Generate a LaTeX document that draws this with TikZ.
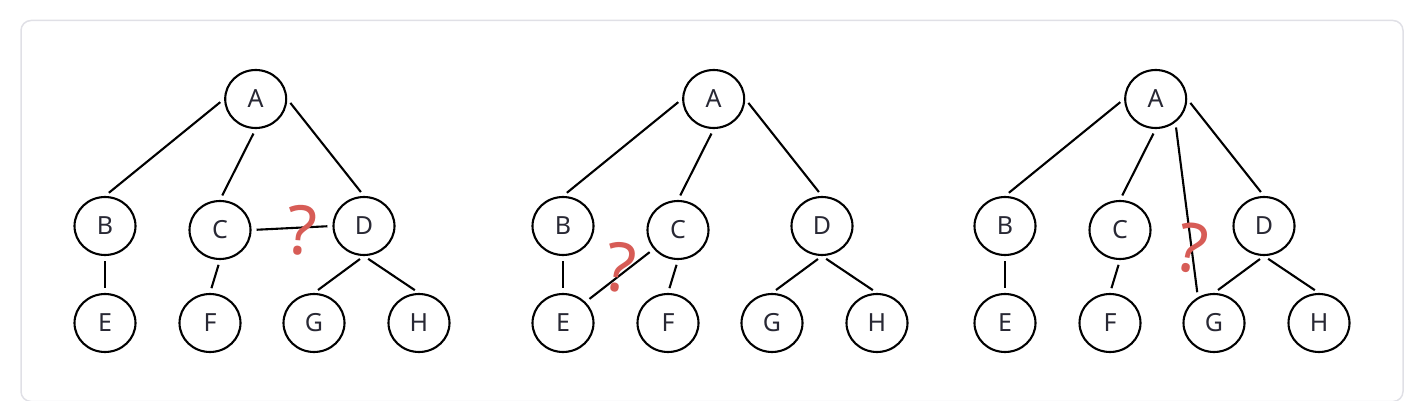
\documentclass[tikz,border=0pt]{standalone}
\usepackage{fontspec}
\setmainfont{Noto Sans}
\usepackage{xcolor}
\definecolor{qred}{RGB}{215,92,86}
\definecolor{qink}{RGB}{40,40,52}
\definecolor{qframe}{RGB}{224,224,230}
\usetikzlibrary{shapes.geometric}

\tikzset{
  vertex/.style={draw=black, ellipse, line width=2.1pt, minimum width=61pt,
    minimum height=58pt, inner sep=0pt, text=qink, font=\fontsize{25}{28}\selectfont},
  edge/.style={draw=black, line width=2.1pt, shorten <=5pt, shorten >=5pt},
  qmark/.style={text=qred, inner sep=0pt, font=\fontsize{68}{74}\selectfont}
}

\begin{document}
\begin{tikzpicture}[x=1pt, y=-1pt]
  \useasboundingbox (0,0) rectangle (1419,401);
  % outer frame
  \draw[qframe, line width=1.5pt, rounded corners=10pt] (21,20.5) rectangle (1403,401.5);

  % the same tree in all three panels
  \foreach \dx/\p in {0/l, 458/m, 900/r} {
    \begin{scope}[shift={(\dx,0)}, name prefix=\p-]
      \node[vertex] (A) at (255.7,99) {A};
      \node[vertex] (B) at (105,226) {B};
      \node[vertex] (C) at (220,230) {C};
      \node[vertex] (D) at (364,226) {D};
      \node[vertex] (E) at (105,323) {E};
      \node[vertex] (F) at (210,323) {F};
      \node[vertex] (G) at (314,323) {G};
      \node[vertex] (H) at (419,323) {H};
      \draw[edge] (A.west) -- (B.north);
      \draw[edge] (A.south) -- (C.north);
      \draw[edge] (A.east) -- (D.north);
      \draw[edge] (B.south) -- (E.north);
      \draw[edge] (C.south) -- (F.north);
      \draw[edge] (D.south) -- (G.north);
      \draw[edge] (D.south) -- (H.north);
    \end{scope}
  }

  % extra links, one per panel
  \draw[edge] (l-C.east) -- (l-D.west);
  \node[qmark, rotate=-4] (q1) at (302,230) {?};

  \draw[edge] (m-C.218) -- (m-E.43);
  \node[qmark, rotate=-8] (q2) at (620,268) {?};

  \draw[edge] (r-A.310) -- (r-G.122);
  \node[qmark, rotate=-10] (q3) at (1192,248) {?};
\end{tikzpicture}
\end{document}
